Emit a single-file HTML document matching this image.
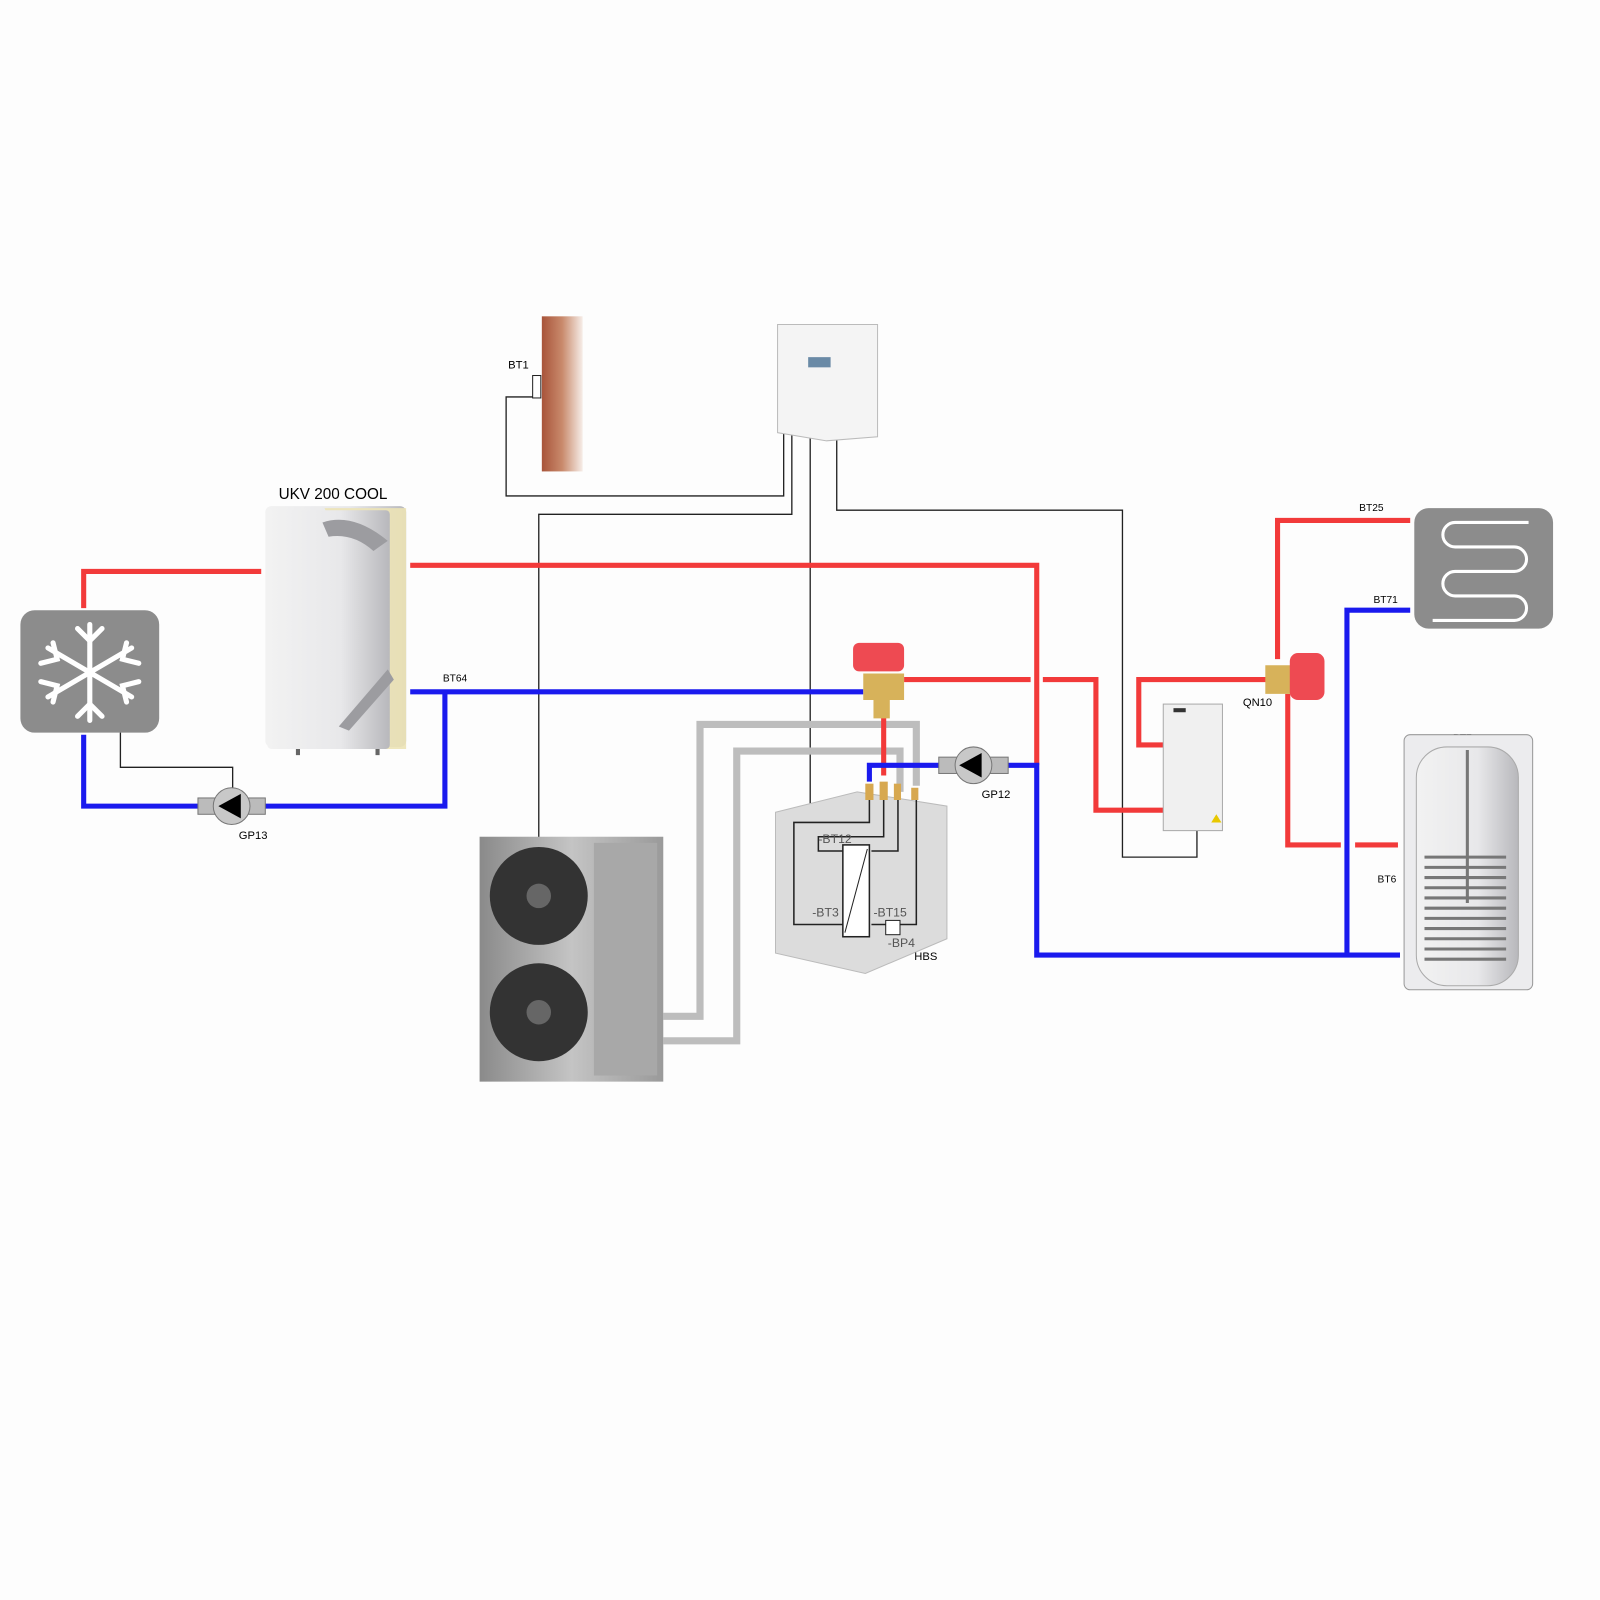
<!DOCTYPE html>
<html><head><style>html,body{margin:0;padding:0;background:#fdfdfd}svg{display:block}text{font-family:"Liberation Sans",sans-serif}</style></head>
<body>
<svg width="1600" height="1600" viewBox="0 0 1568 1568" xmlns="http://www.w3.org/2000/svg">
<defs>
<linearGradient id="wall" x1="0" x2="1"><stop offset="0" stop-color="#a8543a"/><stop offset="0.5" stop-color="#c98a6c"/><stop offset="1" stop-color="#f6ede8"/></linearGradient>
<linearGradient id="tank" x1="0" x2="1"><stop offset="0" stop-color="#f2f2f2"/><stop offset="0.6" stop-color="#e8e8ea"/><stop offset="1" stop-color="#b8b8bc"/></linearGradient>
<linearGradient id="odu" x1="0" x2="1"><stop offset="0" stop-color="#8a8a8a"/><stop offset="0.5" stop-color="#c4c4c4"/><stop offset="1" stop-color="#9a9a9a"/></linearGradient>
</defs>
<rect width="1568" height="1568" fill="#fdfdfd"/>
<!-- wall -->
<rect x="531" y="310" width="40" height="152" fill="url(#wall)"/>
<text x="498" y="361" font-size="11">BT1</text>
<path d="M528 369v20h-32v97h272v-66M776 420v84H528v320M794 420v370M820 430v70h280v340h73v-30" fill="none" stroke="#222" stroke-width="1.3"/>
<rect x="522" y="368" width="8" height="22" fill="#fff" stroke="#222"/>
<!-- controller -->
<path d="M762 318h98v110l-50 4-48-8z" fill="#f4f4f4" stroke="#bbb"/>
<rect x="792" y="350" width="22" height="10" fill="#6a8aa6"/>
<!-- UKV tank -->
<text x="273" y="489" font-size="15">UKV 200 COOL</text>
<rect x="260" y="496" width="138" height="236" rx="6" fill="url(#tank)"/>
<path d="M318 498h80v236h-110l10-20 80-80z" fill="#ece3b6" opacity="0.9"/>
<rect x="262" y="500" width="120" height="234" rx="4" fill="url(#tank)"/>
<path d="M316 512q30-10 64 18l-14 10q-20-18-44-14z" fill="#9c9ca0"/>
<path d="M332 712l48-56 6 10-44 50z" fill="#9c9ca0"/>
<path d="M292 734v6M370 734v6" stroke="#666" stroke-width="4"/>
<!-- snowflake -->
<rect x="20" y="598" width="136" height="120" rx="14" fill="#8c8c8c"/>
<g stroke="#fff" stroke-width="5" stroke-linecap="round" fill="none">
<path d="M88 612v94M47 635l82 48M47 683l82-48"/>
<path d="M76 616l12 12 12-12M76 702l12-12 12 12M40 650l16-4-4-16M136 650l-16-4 4-16M40 668l16 4-4 16M136 668l-16 4 4 16"/>
</g>
<!-- floor heating -->
<rect x="1386" y="498" width="136" height="118" rx="14" fill="#8c8c8c"/>
<path d="M1498 512h-72a12 12 0 0 0 0 24h58a12 12 0 0 1 0 24h-58a12 12 0 0 0 0 24h58a12 12 0 0 1 0 24h-80" fill="none" stroke="#fff" stroke-width="3"/>
<!-- gray refrigerant lines -->
<path d="M650 996h36V710h212v60M650 1020h72V736h160v40" fill="none" stroke="#bdbdbd" stroke-width="7"/>
<!-- red lines -->
<g fill="none" stroke="#f23a3a" stroke-width="5">
<path d="M82 596v-36h174M402 554h614v196"/>
<path d="M886 666h124M1022 666h52v128h66M1140 730h-24v-64h128"/>
<path d="M1382 510h-130v136M1262 680v148h52M1328 828h42"/>
<path d="M866 690v70"/>
</g>
<!-- blue lines -->
<g fill="none" stroke="#1a1aee" stroke-width="5">
<path d="M82 720v70h354v-112h-34M402 678h444"/>
<path d="M852 766v-16h164v186h356M1382 598h-62v338"/>
</g>
<path d="M118 718v34h110v20" fill="none" stroke="#222" stroke-width="1.3"/>
<!-- pumps -->
<g>
<rect x="194" y="782" width="66" height="16" fill="#bbb" stroke="#777"/>
<circle cx="227" cy="790" r="18" fill="#c8c8c8" stroke="#777"/>
<path d="M214 790l22-12v24z" fill="#000"/>
<text x="234" y="822" font-size="11">GP13</text>
</g>
<g>
<rect x="920" y="742" width="68" height="16" fill="#bbb" stroke="#777"/>
<circle cx="954" cy="750" r="18" fill="#c8c8c8" stroke="#777"/>
<path d="M940 750l22-12v24z" fill="#000"/>
<text x="962" y="782" font-size="11">GP12</text>
</g>
<!-- valve -->
<rect x="836" y="630" width="50" height="28" rx="6" fill="#ee4a52"/>
<path d="M846 660h40v26h-14v18h-16v-18h-10z" fill="#d7b25a"/>
<!-- QN10 -->
<path d="M1240 652h26v28h-26z" fill="#d7b25a"/>
<rect x="1264" y="640" width="34" height="46" rx="8" fill="#ee4a52"/>
<text x="1218" y="692" font-size="11">QN10</text>
<!-- sensor labels -->
<text x="434" y="668" font-size="10">BT64</text>
<text x="1332" y="501" font-size="10">BT25</text>
<text x="1346" y="591" font-size="10">BT71</text>
<text x="1424" y="726" font-size="10">BT7</text>
<text x="1350" y="865" font-size="10">BT6</text>
<!-- box unit -->
<rect x="1140" y="690" width="58" height="124" fill="#f0f0f0" stroke="#aaa"/>
<rect x="1150" y="694" width="12" height="4" fill="#333"/>
<path d="M1187 806l5-8 5 8z" fill="#e8c800"/>
<!-- DHW tank -->
<rect x="1376" y="720" width="126" height="250" rx="6" fill="#ececee" stroke="#999"/>
<rect x="1388" y="732" width="100" height="234" rx="30" fill="url(#tank)" stroke="#aaa"/>
<g stroke="#777" stroke-width="3">
<path d="M1396 840h80M1396 850h80M1396 860h80M1396 870h80M1396 880h80M1396 890h80M1396 900h80M1396 910h80M1396 920h80M1396 930h80M1396 940h80"/>
<path d="M1438 735v150"/>
</g>
<!-- outdoor unit -->
<rect x="470" y="820" width="180" height="240" fill="url(#odu)"/>
<circle cx="528" cy="878" r="48" fill="#333"/><circle cx="528" cy="878" r="12" fill="#666"/>
<circle cx="528" cy="992" r="48" fill="#333"/><circle cx="528" cy="992" r="12" fill="#666"/>
<rect x="582" y="826" width="62" height="228" fill="#a8a8a8"/>
<!-- HBS -->
<path d="M760 796l80-20 88 14v130l-80 34-88-20z" fill="#dcdcdc" stroke="#bbb"/>
<g fill="none" stroke="#222" stroke-width="1.5">
<path d="M852 782v24h-74v100h48M866 782v38h-64v14h24M880 782v52h-26M898 782v124h-18M854 906h16"/>
</g>
<rect x="826" y="828" width="26" height="90" fill="#fff" stroke="#222" stroke-width="1.5"/>
<path d="M828 914l22-82" stroke="#222"/>
<rect x="868" y="902" width="14" height="14" fill="#fff" stroke="#222"/>
<g font-size="12" fill="#555"><text x="802" y="826">-BT12</text><text x="796" y="898">-BT3</text><text x="856" y="898">-BT15</text><text x="870" y="928">-BP4</text></g>
<text x="896" y="941" font-size="11">HBS</text>
<g fill="#d7a850"><rect x="848" y="768" width="8" height="16"/><rect x="862" y="766" width="8" height="18"/><rect x="876" y="768" width="7" height="16"/><rect x="893" y="772" width="7" height="12"/></g>
</svg>
</body></html>
